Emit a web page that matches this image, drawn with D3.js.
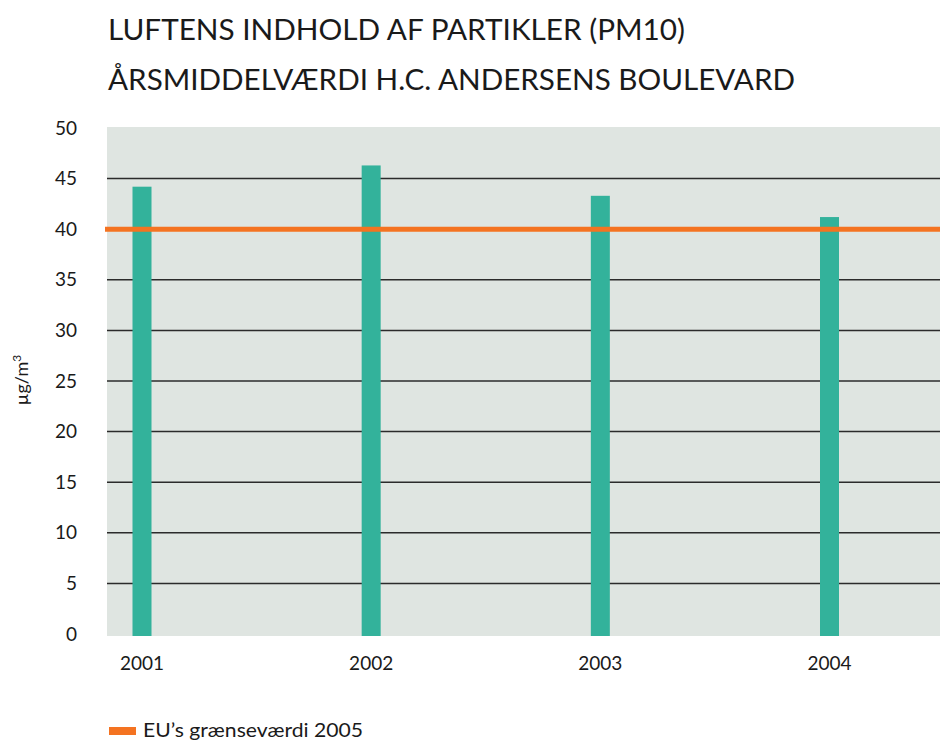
<!DOCTYPE html>
<html>
<head>
<meta charset="utf-8">
<script src="https://cdn.jsdelivr.net/npm/d3@7"></script>
<style>
  body { margin: 0; background: #fff; }
  text { font-family: Lato, "Open Sans", sans-serif; fill: #1a1a1a; }
</style>
</head>
<body>
<div id="chart"></div>
<script>
// Data
let years = ['2001', '2002', '2003', '2004'];
let pm10 = [44.2, 46.3, 43.3, 41.2];
let limit = 40;
let yTicks = [0, 5, 10, 15, 20, 25, 30, 35, 40, 45, 50];
let titleLines = ['LUFTENS INDHOLD AF PARTIKLER (PM10)', 'ÅRSMIDDELVÆRDI H.C. ANDERSENS BOULEVARD'];
let titleWidths = [577, 687];
let legendLabel = 'EU\u2019s grænseværdi 2005';

let width = 940, height = 745;
let plot = { left: 107, right: 940, top: 127, bottom: 636 };

let svg = d3.select('#chart')
    .append('svg')
    .attr('width', width)
    .attr('height', height);

// Scales
let x = d3.scalePoint().domain(years).range([142, 829.5]);
let y = d3.scaleLinear().domain([0, 50]).range([634, 128]);

// Titles
svg.selectAll('.title')
    .data(titleLines)
    .enter()
    .append('text')
    .attr('class', 'title')
    .attr('x', 108)
    .attr('y', function (d, i) { return 40 + i * 50; })
    .attr('font-size', 28)
    .attr('textLength', function (d, i) { return titleWidths[i]; })
    .attr('lengthAdjust', 'spacingAndGlyphs')
    .text(function (d) { return d; });

// Plot background
svg.append('rect')
    .attr('x', plot.left)
    .attr('y', y(50) - 1)
    .attr('width', plot.right - plot.left)
    .attr('height', y(0) - y(50) + 3)
    .attr('fill', '#dfe5e1');

// Gridlines
svg.selectAll('.grid')
    .data(yTicks.filter(function (d) { return d > 0 && d < 50; }))
    .enter()
    .append('line')
    .attr('x1', plot.left)
    .attr('x2', plot.right)
    .attr('y1', function (d) { return y(d); })
    .attr('y2', function (d) { return y(d); })
    .attr('stroke', '#2b2b2b')
    .attr('stroke-width', 1.5);

// Y tick labels
svg.selectAll('.ytick')
    .data(yTicks)
    .enter()
    .append('text')
    .attr('x', 77)
    .attr('y', function (d) { return y(d); })
    .attr('dy', '0.35em')
    .attr('text-anchor', 'end')
    .attr('font-size', 19)
    .text(function (d) { return d; });

// Bars
let barWidth = 19;
svg.selectAll('.bar')
    .data(pm10)
    .enter()
    .append('rect')
    .attr('x', function (d, i) { return x(years[i]) - barWidth / 2; })
    .attr('y', function (d) { return y(d); })
    .attr('width', barWidth)
    .attr('height', function (d) { return y(0) - y(d) + 2; })
    .attr('fill', '#33b29b');

// EU limit line
svg.append('line')
    .attr('x1', plot.left - 2)
    .attr('x2', plot.right)
    .attr('y1', y(limit))
    .attr('y2', y(limit))
    .attr('stroke', '#f47321')
    .attr('stroke-width', 5);

// X labels
svg.selectAll('.xtick')
    .data(years)
    .enter()
    .append('text')
    .attr('x', function (d) { return x(d); })
    .attr('y', 663)
    .attr('dy', '0.35em')
    .attr('text-anchor', 'middle')
    .attr('font-size', 19)
    .text(function (d) { return d; });

// Y axis title
svg.append('text')
    .attr('transform', 'translate(28,380) rotate(-90)')
    .attr('text-anchor', 'middle')
    .attr('font-size', 18)
    .html('µg/m<tspan dy="-7" font-size="12">3</tspan>');

// Legend
svg.append('rect')
    .attr('x', 109)
    .attr('y', 727)
    .attr('width', 27)
    .attr('height', 8)
    .attr('fill', '#f47321');

svg.append('text')
    .attr('x', 143)
    .attr('y', 737)
    .attr('font-size', 19)
    .attr('textLength', 220)
    .attr('lengthAdjust', 'spacingAndGlyphs')
    .text(legendLabel);
</script>
</body>
</html>
